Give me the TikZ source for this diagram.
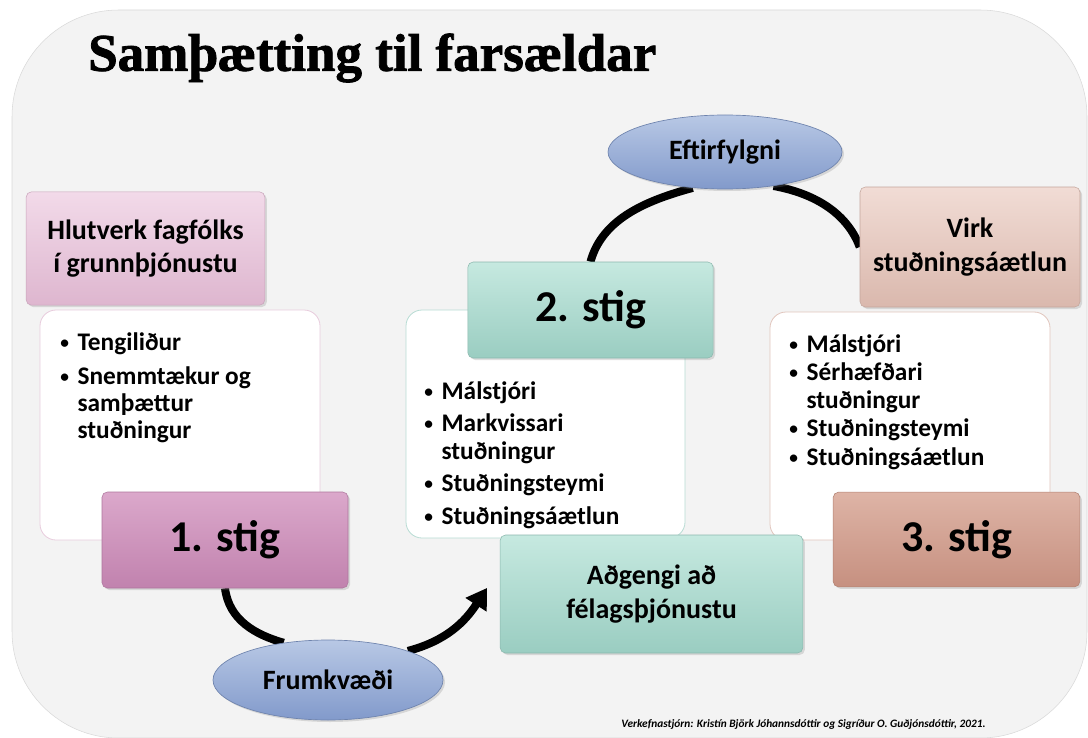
\documentclass[tikz,border=0pt]{standalone}
\usepackage{fontspec}
\setmainfont{Carlito}
\newfontfamily\titlefont[BoldFeatures={FakeBold=1.5}]{Liberation Serif}
\usetikzlibrary{shapes.geometric,shadows,shadings,arrows.meta}

\definecolor{panel}{RGB}{243,243,243}
\definecolor{pinkT}{RGB}{242,218,233}
\definecolor{pinkB}{RGB}{222,182,207}
\definecolor{magT}{RGB}{219,168,203}
\definecolor{magB}{RGB}{193,130,174}
\definecolor{tealT}{RGB}{198,233,224}
\definecolor{tealB}{RGB}{154,205,193}
\definecolor{roseT}{RGB}{241,220,213}
\definecolor{roseB}{RGB}{218,184,173}
\definecolor{rustT}{RGB}{222,180,166}
\definecolor{rustB}{RGB}{198,144,128}
\definecolor{ovalT}{RGB}{184,200,229}
\definecolor{ovalB}{RGB}{130,154,203}

\pgfdeclarelayer{background}
\pgfsetlayers{background,main}

\tikzset{every picture/.style={line width=0.75pt},
  box/.style={rectangle, rounded corners=4pt, align=center, inner sep=0pt,
    font=\bfseries\fontsize{21}{25}\selectfont,
    drop shadow={opacity=0.25, shadow xshift=1.5pt, shadow yshift=-1.5pt}},
  stagebox/.style={box, font=\bfseries\fontsize{33}{36}\selectfont},
  oval/.style={ellipse, draw=ovalB!85!black, line width=0.5pt, top color=ovalT, bottom color=ovalB,
    inner sep=0pt, font=\bfseries\fontsize{21}{25}\selectfont,
    drop shadow={opacity=0.25, shadow xshift=1.5pt, shadow yshift=-1.5pt}},
  listbox/.style={draw=#1, line width=0.6pt, fill=white, rounded corners=12pt},
  listtext/.style={anchor=north west, align=left, inner sep=0pt,
    font=\bfseries\fontsize{19}{20.5}\selectfont},
  arcline/.style={line width=6pt, black}
}

\newcommand{\bul}{\makebox[13pt][l]{\raisebox{1.5pt}{\fontsize{13}{13}\selectfont\textbullet}}}
\newcommand{\wrapind}{\hspace*{13pt}}

\begin{document}
\begin{tikzpicture}[x=0.75pt,y=0.75pt,yscale=-1,xscale=1]
	\useasboundingbox (0,0) rectangle (1088,738);

	%Shape: Panel [id:panel]
	\begin{pgfonlayer}{background}
	\draw [draw=gray!30, fill=panel, rounded corners=80pt] (12,10) rectangle (1087,738);
	\end{pgfonlayer}

	% Text Node
	\node (title) [anchor=west, inner sep=0pt] at (88,58) {\resizebox{426pt}{!}{\titlefont\bfseries Samþætting til farsældar}};

	%Shape: Rectangle [id:list1]
	\draw [listbox={pinkB!70}] (40,310) rectangle (320,540);
	%Shape: Rectangle [id:list2]
	\draw [listbox={tealB!70}] (406,310) rectangle (685,538);
	%Shape: Rectangle [id:list3]
	\draw [listbox={roseB!80}] (770,312) rectangle (1050,540);

	% Text Node
	\node (list1) [listtext] at (60,332) {\bul Tengiliður\\[5pt]
		\bul Snemmtækur og\\ \wrapind samþættur\\ \wrapind stuðningur};
	% Text Node
	\node (list2) [listtext] at (424,381) {\bul Málstjóri\\[4pt]
		\bul Markvissari\\ \wrapind stuðningur\\[4pt]
		\bul Stuðningsteymi\\[4pt] \bul Stuðningsáætlun};
	% Text Node
	\node (list3) [listtext] at (789,334) {\bul Málstjóri\\[1pt]
		\bul Sérhæfðari\\ \wrapind stuðningur\\[1pt]
		\bul Stuðningsteymi\\[1pt] \bul Stuðningsáætlun};

	%Shape: Rectangle [id:role]
	\node (role) [box, draw=pinkB!90!black, top color=pinkT, bottom color=pinkB,
		minimum width=179pt, minimum height=85pt] at (145.5,248.5)
		{Hlutverk fagfólks\\ í grunnþjónustu};
	%Shape: Rectangle [id:stig1]
	\node (stig1) [stagebox, draw=magB!90!black, top color=magT, bottom color=magB,
		minimum width=184.5pt, minimum height=72pt] at (225,540) {1. stig};
	%Shape: Rectangle [id:stig2]
	\node (stig2) [stagebox, draw=tealB!90!black, top color=tealT, bottom color=tealB,
		minimum width=184pt, minimum height=72pt] at (590.5,310) {2. stig};
	%Shape: Rectangle [id:plan]
	\node (plan) [box, draw=roseB!90!black, top color=roseT, bottom color=roseB,
		minimum width=165pt, minimum height=90pt] at (970,247)
		{\fontsize{21}{22}\selectfont Virk\\ stuðningsáætlun};
	%Shape: Rectangle [id:stig3]
	\node (stig3) [stagebox, draw=rustB!90!black, top color=rustT, bottom color=rustB,
		minimum width=185pt, minimum height=71pt] at (956.5,539.5) {3. stig};
	%Shape: Rectangle [id:access]
	\node (access) [box, draw=tealB!90!black, top color=tealT, bottom color=tealB,
		minimum width=227pt, minimum height=88.5pt] at (651.5,594)
		{\fontsize{21}{24}\selectfont Aðgengi að\\ félagsþjónustu};

	%Shape: Ellipse [id:init]
	\node (init) [oval, minimum width=172.5pt, minimum height=60pt] at (328,680) {Frumkvæði};
	%Shape: Ellipse [id:follow]
	\node (follow) [oval, minimum width=175.5pt, minimum height=55.5pt] at (725,152) {Eftirfylgni};

	%Curved Lines
	\begin{pgfonlayer}{background}
	\draw [arcline] (stig1.south) .. controls +(4,32) and +(-28,-8) .. (init.140);
	\draw [arcline, -{Triangle[length=15pt,width=18pt]}] (init.20) .. controls +(38,-10) and +(-22,34) .. ([shift={(-13,-6)}]access.west);
	\draw [arcline] (stig2.north) .. controls +(12,-44) and +(-44,12) .. (follow.228);
	\draw [arcline] (follow.325) .. controls +(44,8) and +(-12,-32) .. (plan.west);
	\end{pgfonlayer}

	% Text Node
	\node (credit) [anchor=east, inner sep=0pt, font=\bfseries\itshape\fontsize{8.5}{10}\selectfont] at (986,724)
		{Verkefnastjórn: Kristín Björk Jóhannsdóttir og Sigríður O. Guðjónsdóttir, 2021.};

\end{tikzpicture}
\end{document}
